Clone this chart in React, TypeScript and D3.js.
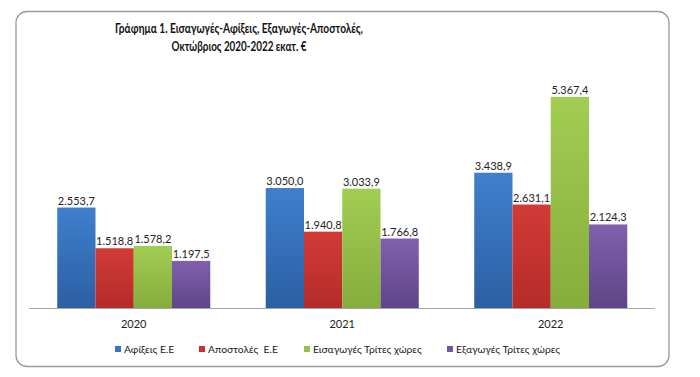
import React from "react";
import * as d3 from "d3";

const years = ["2020", "2021", "2022"];
const seriesNames = ["Αφίξεις Ε.Ε", "Αποστολές  Ε.Ε", "Εισαγωγές Τρίτες χώρες", "Εξαγωγές Τρίτες χώρες"];
const arrivalsEU = [2553.7, 3050.0, 3438.9];
const dispatchesEU = [1518.8, 1940.8, 2631.1];
const importsThird = [1578.2, 3033.9, 5367.4];
const exportsThird = [1197.5, 1766.8, 2124.3];
const seriesValues = [arrivalsEU, dispatchesEU, importsThird, exportsThird];
const colorsTop = ["#3f7fcc", "#d13b37", "#a2cd52", "#8060ad"];
const colorsBottom = ["#2c5fa3", "#b52b28", "#85ad3c", "#5f4587"];
const legendColors = ["#3a73c0", "#c8322e", "#97c24a", "#73559f"];

const fmt = (v: number) => {
  const s = d3.format(",.1f")(v);
  return s.replace(/,/g, "#").replace(".", ",").replace(/#/g, ".");
};

export default function App() {
  const W = 700, H = 377;
  const baseY = 308;
  const x0 = d3.scaleBand().domain(years).range([29.5, 655]).paddingInner(0).paddingOuter(0);
  const inner = d3.scaleBand().domain(d3.range(4).map(String)).range([0, x0.bandwidth()]).paddingOuter(0.725).paddingInner(0);
  const y = d3.scaleLinear().domain([0, 6000]).range([baseY, 72]);
  const font = "Lato, 'Open Sans', sans-serif";
  const legendX = [115, 199, 304, 447];

  return (
    <svg width={W} height={H} style={{ position: "absolute", left: 0, top: 0 }}>
      <defs>
        {colorsTop.map((c, i) => (
          <linearGradient key={i} id={`g${i}`} x1="0" y1="0" x2="0" y2="1">
            <stop offset="0" stopColor={c} />
            <stop offset="1" stopColor={colorsBottom[i]} />
          </linearGradient>
        ))}
      </defs>
      <rect x={0} y={0} width={W} height={H} fill="#fff" />
      <rect x={16} y={11.5} width={653} height={355} rx={11} ry={11} fill="#fff" stroke="#9a9a9a" strokeWidth={1.3} />
      <text x={239} y={33} textAnchor="middle" fontFamily={font} fontWeight="bold" fontSize={13.5} fill="#111"
        textLength={248} lengthAdjust="spacingAndGlyphs">
        Γράφημα 1. Εισαγωγές-Αφίξεις, Εξαγωγές-Αποστολές,
      </text>
      <text x={239} y={51} textAnchor="middle" fontFamily={font} fontWeight="bold" fontSize={13.5} fill="#111"
        textLength={135} lengthAdjust="spacingAndGlyphs">
        Οκτώβριος 2020-2022 εκατ. €
      </text>
      {years.map((yr, yi) => (
        <g key={yr} transform={`translate(${x0(yr)},0)`}>
          {seriesValues.map((vals, si) => {
            const bx = inner(String(si))!;
            const bw = inner.bandwidth();
            const top = y(vals[yi]);
            return (
              <g key={si}>
                <rect x={bx} y={top} width={bw} height={baseY - top} fill={`url(#g${si})`} />
                <text x={bx + bw / 2} y={top - 3} textAnchor="middle" fontFamily={font} fontSize={11} fill="#222">
                  {fmt(vals[yi])}
                </text>
              </g>
            );
          })}
          <text x={x0.bandwidth() / 2} y={328} textAnchor="middle" fontFamily={font} fontSize={11} fill="#222">
            {yr}
          </text>
        </g>
      ))}
      <line x1={29.5} x2={655} y1={baseY + 0.5} y2={baseY + 0.5} stroke="#a6a6a6" strokeWidth={1} />
      {seriesNames.map((n, i) => (
        <g key={n}>
          <rect x={legendX[i]} y={346} width={6} height={6} fill={legendColors[i]} />
          <text x={legendX[i] + 9} y={353} fontFamily={font} fontSize={10.3} fill="#222" xmlSpace="preserve">
            {n}
          </text>
        </g>
      ))}
    </svg>
  );
}
